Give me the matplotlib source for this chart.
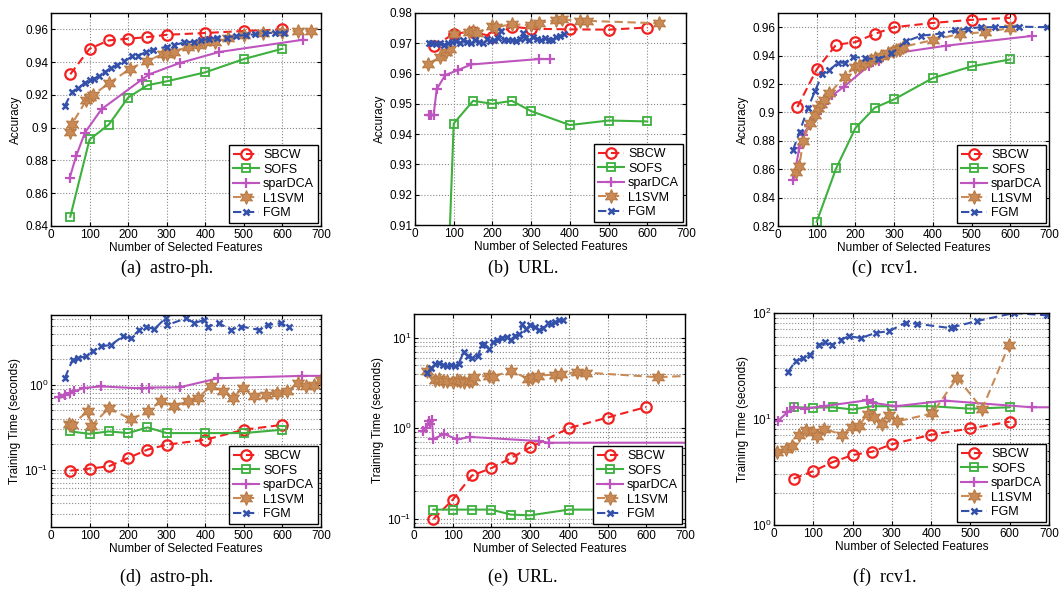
import numpy as np
import matplotlib
matplotlib.use("Agg")
import matplotlib.pyplot as plt
from matplotlib.ticker import FuncFormatter, LogLocator, NullFormatter

plt.rcParams['font.family'] = ['Liberation Sans', 'DejaVu Sans']
plt.rcParams['mathtext.default'] = 'regular'

# ---------- (a) astro-ph accuracy ----------
a_sbcw_x = [50, 100, 150, 200, 250, 300, 400, 500, 600]
a_sbcw_y = [0.9326, 0.9482, 0.9533, 0.9543, 0.9553, 0.9567, 0.9578, 0.959, 0.960]
a_sofs_x = [50, 100, 150, 200, 250, 300, 400, 500, 600]
a_sofs_y = [0.8457, 0.8928, 0.9019, 0.9184, 0.9259, 0.9283, 0.9338, 0.9419, 0.9482]
a_spar_x = [48, 65, 88, 131, 235, 255, 334, 436, 654]
a_spar_y = [0.869, 0.8826, 0.897, 0.9113, 0.9293, 0.9326, 0.9395, 0.9462, 0.9537]
a_l1_x = [48, 55, 92, 100, 108, 150, 205, 250, 290, 300, 320, 355, 380, 400, 425,
          460, 500, 550, 600, 640, 675]
a_l1_y = [0.8975, 0.9025, 0.917, 0.919, 0.920, 0.927, 0.936, 0.941, 0.9448, 0.945,
          0.9464, 0.9494, 0.9505, 0.952, 0.9525, 0.9545, 0.9565, 0.9576, 0.9586, 0.959, 0.9588]
a_fgm_x = [36, 55, 70, 88, 100, 112, 125, 140, 155, 170, 190, 210, 225, 245, 265, 300,
           320, 345, 370, 390, 410, 430, 455, 480, 505, 530, 555, 580, 605]
a_fgm_y = [0.9135, 0.922, 0.924, 0.9275, 0.929, 0.930, 0.9315, 0.934, 0.9365, 0.938,
           0.9405, 0.9435, 0.944, 0.946, 0.9475, 0.9495, 0.9505, 0.952, 0.9525, 0.9535,
           0.954, 0.955, 0.955, 0.956, 0.9565, 0.957, 0.9575, 0.958, 0.958]

# ---------- (b) URL accuracy ----------
b_sbcw_x = [50, 100, 150, 200, 250, 300, 400, 500, 600]
b_sbcw_y = [0.969, 0.9732, 0.9738, 0.9722, 0.9755, 0.9748, 0.9746, 0.9745, 0.9752]
b_sofs_x = [50, 100, 150, 200, 250, 300, 400, 500, 600]
b_sofs_y = [0.77, 0.9435, 0.951, 0.950, 0.951, 0.9476, 0.943, 0.9445, 0.9442]
b_spar_x = [35, 42, 48, 56, 78, 112, 145, 320, 348]
b_spar_y = [0.9462, 0.9462, 0.9462, 0.9548, 0.9595, 0.9612, 0.963, 0.9648, 0.9648]
b_l1_x = [33, 65, 80, 90, 100, 140, 150, 160, 200, 210, 250, 300, 320, 365, 380, 425, 445, 630]
b_l1_y = [0.9632, 0.9655, 0.967, 0.968, 0.9732, 0.9738, 0.974, 0.9735, 0.9757, 0.9753,
          0.9763, 0.976, 0.9767, 0.9776, 0.978, 0.9772, 0.9774, 0.9766]
b_fgm_x = [35, 45, 55, 65, 75, 85, 95, 105, 115, 125, 135, 145, 155, 165, 175, 185, 195,
           205, 215, 222, 230, 240, 250, 260, 270, 278, 285, 295, 305, 315, 325, 335, 345,
           355, 365, 375, 385]
b_fgm_y = [0.9702, 0.9700, 0.9698, 0.9700, 0.9695, 0.9700, 0.9705, 0.9708, 0.9702, 0.9712,
           0.9705, 0.9700, 0.9710, 0.9705, 0.9702, 0.9715, 0.9708, 0.9712, 0.9718, 0.9740,
           0.9712, 0.9710, 0.9712, 0.9708, 0.9715, 0.9735, 0.9718, 0.9712, 0.9720, 0.9715,
           0.9712, 0.9718, 0.9710, 0.9712, 0.9720, 0.9725, 0.9730]

# ---------- (c) rcv1 accuracy ----------
c_sbcw_x = [50, 100, 150, 200, 250, 300, 400, 500, 600]
c_sbcw_y = [0.9038, 0.9303, 0.9476, 0.9495, 0.9553, 0.960, 0.963, 0.9652, 0.9666]
c_sofs_x = [100, 150, 200, 250, 300, 400, 500, 600]
c_sofs_y = [0.823, 0.8605, 0.889, 0.9033, 0.9092, 0.9242, 0.9324, 0.9373]
c_spar_x = [40, 55, 65, 80, 100, 120, 140, 170, 235, 260, 315, 435, 655]
c_spar_y = [0.8525, 0.875, 0.884, 0.891, 0.899, 0.906, 0.912, 0.918, 0.933, 0.936,
            0.9422, 0.947, 0.9538]
c_l1_x = [47, 55, 65, 82, 95, 103, 112, 120, 133, 172, 198, 210, 224, 240, 250, 265, 284,
          296, 306, 315, 323, 401, 470, 535, 598]
c_l1_y = [0.8577, 0.862, 0.880, 0.8924, 0.8985, 0.9029, 0.906, 0.9087, 0.9134, 0.9251,
          0.9322, 0.933, 0.935, 0.937, 0.938, 0.940, 0.9415, 0.943, 0.9438, 0.945, 0.9462,
          0.951, 0.9553, 0.9565, 0.9593]
c_fgm_x = [39, 56, 77, 96, 114, 133, 155, 172, 194, 224, 258, 293, 330, 370, 420, 457,
           490, 524, 560, 623, 694]
c_fgm_y = [0.8736, 0.8865, 0.9029, 0.9153, 0.9268, 0.9298, 0.935, 0.935, 0.9392, 0.938,
           0.9375, 0.9415, 0.950, 0.954, 0.9555, 0.9577, 0.959, 0.960, 0.960, 0.9604, 0.960]

# ---------- (d) astro-ph training time ----------
d_sbcw_x = [50, 100, 150, 200, 250, 300, 400, 500, 600]
d_sbcw_y = [0.0973, 0.1027, 0.1095, 0.137, 0.172, 0.197, 0.225, 0.296, 0.338]
d_sofs_x = [50, 100, 150, 200, 250, 300, 400, 500, 600]
d_sofs_y = [0.2825, 0.2645, 0.2825, 0.27, 0.315, 0.27, 0.27, 0.27, 0.296]
d_spar_x = [22, 35, 50, 60, 85, 130, 237, 254, 334, 434, 651, 720]
d_spar_y = [0.72, 0.76, 0.81, 0.84, 0.92, 0.96, 0.91, 0.93, 0.94, 1.2, 1.28, 1.28]
d_l1_x = [47, 55, 95, 104, 151, 207, 251, 285, 320, 354, 380, 415, 445, 471, 497, 527,
          557, 587, 613, 640, 661, 683, 700]
d_l1_y = [0.347, 0.34, 0.49, 0.327, 0.536, 0.391, 0.49, 0.643, 0.561, 0.643, 0.703, 0.965,
          0.843, 0.703, 0.92, 0.736, 0.76, 0.805, 0.843, 1.055, 0.965, 1.0, 1.15]
d_fgm_x = [36, 56, 69, 91, 108, 130, 156, 186, 207, 229, 246, 268, 298, 302, 350, 371,
           397, 406, 436, 466, 492, 540, 562, 596, 618]
d_fgm_y = [1.21, 1.99, 2.08, 2.17, 2.49, 2.85, 2.98, 3.74, 3.57, 4.47, 4.9, 4.55, 6.25,
           5.11, 6.13, 5.36, 5.86, 4.9, 5.36, 4.47, 4.9, 4.47, 5.11, 5.36, 4.77]

# ---------- (e) URL training time ----------
e_sbcw_x = [50, 100, 150, 200, 250, 300, 400, 500, 600]
e_sbcw_y = [0.099, 0.162, 0.30, 0.362, 0.467, 0.612, 1.0, 1.31, 1.71]
e_sofs_x = [50, 100, 150, 200, 250, 300, 400, 500, 600]
e_sofs_y = [0.126, 0.126, 0.126, 0.126, 0.111, 0.109, 0.126, 0.126, 0.126]
e_spar_x = [22, 32, 38, 42, 46, 50, 78, 112, 145, 322, 348, 720]
e_spar_y = [0.92, 1.0, 1.2, 1.1, 1.22, 0.76, 0.86, 0.75, 0.80, 0.72, 0.69, 0.69]
e_l1_x = [33, 55, 65, 75, 86, 100, 110, 120, 130, 142, 150, 155, 195, 205, 250, 295, 305,
          320, 365, 380, 420, 445, 630, 720]
e_l1_y = [4.3, 3.4, 3.5, 3.3, 3.35, 3.2, 3.4, 3.3, 3.2, 3.35, 3.3, 3.65, 3.8, 3.7, 4.3,
          3.5, 3.6, 3.8, 3.9, 3.95, 4.15, 4.1, 3.65, 3.8]
e_fgm_x = [34, 45, 55, 65, 75, 85, 95, 105, 115, 128, 140, 150, 165, 175, 182, 195, 205,
           215, 228, 240, 250, 262, 272, 280, 290, 300, 312, 322, 332, 345, 355, 365, 375, 385]
e_fgm_y = [4.05, 4.6, 5.1, 5.3, 5.0, 4.8, 5.0, 4.9, 5.1, 6.9, 6.2, 6.0, 6.3, 8.2, 8.5, 7.5,
           8.9, 9.3, 10.0, 10.2, 9.5, 10.5, 11.0, 14.0, 12.5, 13.6, 13.0, 12.0, 12.6, 14.5,
           14.0, 15.0, 15.5, 15.7]

# ---------- (f) rcv1 training time ----------
f_sbcw_x = [50, 100, 150, 200, 250, 300, 400, 500, 600]
f_sbcw_y = [2.74, 3.22, 3.93, 4.57, 4.92, 5.78, 7.1, 8.15, 9.44]
f_sofs_x = [50, 100, 150, 200, 250, 300, 400, 500, 600]
f_sofs_y = [12.9, 12.8, 12.9, 12.3, 13.2, 13.2, 13.2, 12.5, 12.9]
f_spar_x = [11, 34, 51, 79, 126, 236, 253, 310, 435, 656, 720]
f_spar_y = [9.64, 11.6, 12.9, 12.5, 13.2, 15.0, 14.2, 13.2, 14.9, 12.9, 12.9]
f_l1_x = [8, 30, 47, 64, 81, 98, 110, 127, 174, 199, 216, 238, 255, 276, 293, 314, 403,
          466, 530, 598]
f_l1_y = [4.85, 5.21, 5.62, 7.0, 7.8, 7.6, 6.9, 8.1, 7.1, 8.4, 8.6, 11.2, 10.4, 9.0, 10.8,
          9.5, 11.3, 24.5, 12.5, 49.5]
f_fgm_x = [36, 55, 75, 92, 115, 131, 148, 170, 191, 221, 259, 293, 335, 365, 450, 458,
           517, 611, 694]
f_fgm_y = [28, 35, 37.6, 40.4, 50.3, 52.7, 50.3, 56.2, 60.4, 58, 65, 67.4, 81, 79, 72, 74,
           84, 100, 95]

names = ['SBCW', 'SOFS', 'sparDCA', 'L1SVM', 'FGM']
styles = {
    'SBCW': dict(color='#F22020', ls=(0, (4, 2.2)), marker='o', ms=7.5, mfc='none', mew=1.6),
    'SOFS': dict(color='#3DB03D', ls='-', marker='s', ms=5.5, mfc='none', mew=1.3),
    'sparDCA': dict(color='#BE55BE', ls='-', marker='+', ms=7, mew=1.6),
    'L1SVM': dict(color='#C98A55', ls=(0, (4, 2.2)), marker=(6, 1, 0), ms=10,
                  mfc='#C98A55', mec='#B87A45', mew=0.8),
    'FGM': dict(color='#3350AA', ls=(0, (4, 2.2)), marker='x', ms=5, mew=1.8),
}

W, H = 1061, 593
fig = plt.figure(figsize=(W / 100, H / 100), dpi=100)


def box(l, r, t, b):
    return [l / W, 1 - b / H, (r - l) / W, (b - t) / H]


panels = [
    (box(51, 321, 13, 226), 'a', 'lin', (0.84, 0.97), np.arange(0.84, 0.961, 0.02), 'Accuracy'),
    (box(415, 686, 13, 225), 'b', 'lin', (0.91, 0.98), np.arange(0.91, 0.981, 0.01), 'Accuracy'),
    (box(778, 1049, 13, 226), 'c', 'lin', (0.82, 0.97), np.arange(0.82, 0.961, 0.02), 'Accuracy'),
    (box(51, 321, 315, 527), 'd', 'log', (0.021, 6.7), None, 'Training Time (seconds)'),
    (box(414, 685, 314, 527), 'e', 'log', (0.081, 18.2), None, 'Training Time (seconds)'),
    (box(774, 1049, 313, 525), 'f', 'log', (1, 100), None, 'Training Time (seconds)'),
]

series = {
    'a': [(a_sbcw_x, a_sbcw_y), (a_sofs_x, a_sofs_y), (a_spar_x, a_spar_y), (a_l1_x, a_l1_y), (a_fgm_x, a_fgm_y)],
    'b': [(b_sbcw_x, b_sbcw_y), (b_sofs_x, b_sofs_y), (b_spar_x, b_spar_y), (b_l1_x, b_l1_y), (b_fgm_x, b_fgm_y)],
    'c': [(c_sbcw_x, c_sbcw_y), (c_sofs_x, c_sofs_y), (c_spar_x, c_spar_y), (c_l1_x, c_l1_y), (c_fgm_x, c_fgm_y)],
    'd': [(d_sbcw_x, d_sbcw_y), (d_sofs_x, d_sofs_y), (d_spar_x, d_spar_y), (d_l1_x, d_l1_y), (d_fgm_x, d_fgm_y)],
    'e': [(e_sbcw_x, e_sbcw_y), (e_sofs_x, e_sofs_y), (e_spar_x, e_spar_y), (e_l1_x, e_l1_y), (e_fgm_x, e_fgm_y)],
    'f': [(f_sbcw_x, f_sbcw_y), (f_sofs_x, f_sofs_y), (f_spar_x, f_spar_y), (f_l1_x, f_l1_y), (f_fgm_x, f_fgm_y)],
}

for rect, key, scale, ylim, yticks, ylab in panels:
    ax = fig.add_axes(rect)
    for name, (xs, ys) in zip(names, series[key]):
        ax.plot(xs, ys, label=name, lw=1.5, **styles[name])
    ax.set_xlim(0, 700)
    ax.set_xticks(range(0, 701, 100))
    if scale == 'log':
        ax.set_yscale('log')
        ax.yaxis.set_minor_locator(LogLocator(base=10, subs=np.arange(2, 10)))
        ax.yaxis.set_minor_formatter(NullFormatter())
        ax.grid(True, which='both', axis='y', ls=':', color='#888888', lw=0.8)
        ax.grid(True, which='major', axis='x', ls=':', color='#888888', lw=0.8)
    else:
        ax.set_yticks(yticks)
        ax.yaxis.set_major_formatter(FuncFormatter(lambda v, p: f'{round(v, 3):g}'))
        ax.grid(True, ls=':', color='#888888', lw=0.8)
    ax.set_ylim(*ylim)
    ax.tick_params(direction='in', top=True, right=True, labelsize=8.5, length=3, pad=2)
    ax.tick_params(which='minor', direction='in', right=True, length=1.5)
    for s in ax.spines.values():
        s.set_linewidth(1.0)
    ax.set_xlabel('Number of Selected Features', fontsize=8.5, labelpad=1)
    ax.set_ylabel(ylab, fontsize=8.5, labelpad=2)
    leg = ax.legend(loc='lower right', fontsize=9, frameon=True, fancybox=False,
                    borderaxespad=0.25, handlelength=2.1, handletextpad=0.3,
                    labelspacing=0.2, borderpad=0.3)
    leg.get_frame().set_edgecolor('black')
    leg.get_frame().set_linewidth(1.0)
    leg.get_frame().set_alpha(1)

captions = [('(a)  astro-ph.', 167, 268), ('(b)  URL.', 523, 268), ('(c)  rcv1.', 885, 268),
            ('(d)  astro-ph.', 167, 577), ('(e)  URL.', 523, 577), ('(f)  rcv1.', 885, 577)]
for txt, cx, cy in captions:
    fig.text(cx / W, 1 - cy / H, txt, ha='center', va='center', fontsize=13,
             family=['Liberation Serif', 'DejaVu Serif'])

fig.savefig('out.png', dpi=100)
